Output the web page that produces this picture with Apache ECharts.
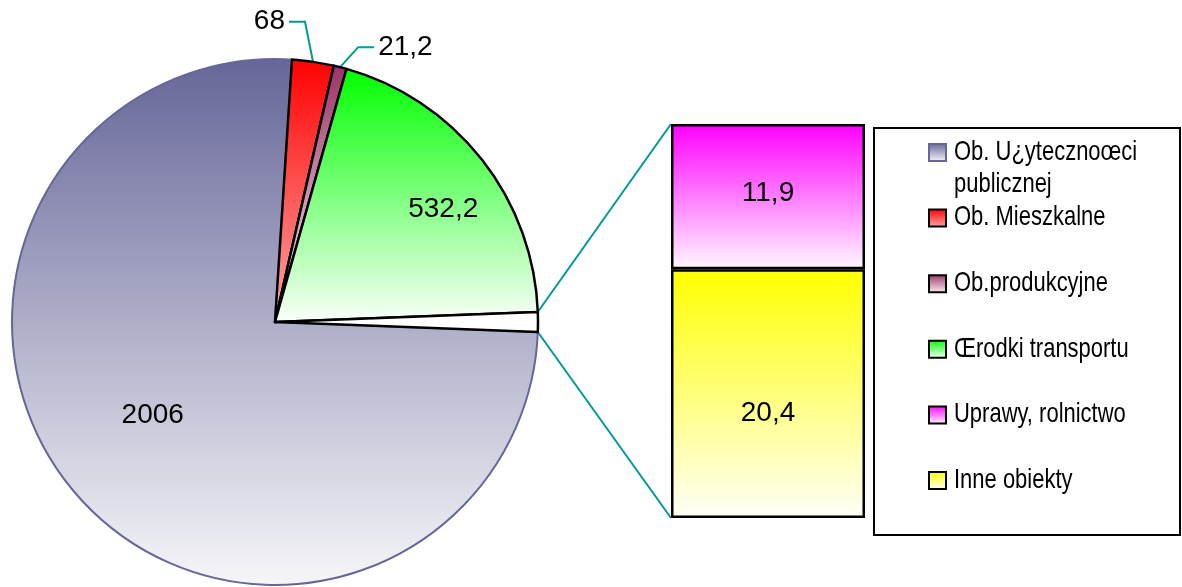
<!DOCTYPE html>
<html><head><meta charset="utf-8">
<script src="https://cdn.jsdelivr.net/npm/echarts@6/dist/echarts.min.js"></script>
<style>html,body{margin:0;padding:0;background:#fff}#c{width:1182px;height:587px}</style>
</head><body><div id="c"></div>
<script>
// ---- data ----
var pieCategories = ['Ob. U¿ytecznoœci publicznej', 'Ob. Mieszkalne', 'Ob.produkcyjne', 'Œrodki transportu'];
var pieValues = [2006, 68, 21.2, 532.2];
var barCategories = ['Uprawy, rolnictwo', 'Inne obiekty'];
var barValues = [11.9, 20.4];

// ---- styles / layout ----
var FF = "'Liberation Sans Narrow','Arial Narrow','Liberation Sans',Arial,sans-serif";
var pieColors = [['#666699', '#f6f6f9'], ['#ff0000', '#ffa8a8'], ['#993366', '#fff0f6'], ['#00ff00', '#fbfffb']];
var pieBorders = ['#666699', '#000', '#000', '#000'];
var barColors = [['#ff00ff', '#fff8ff'], ['#ffff00', '#fffff8']];
var CX = 275, CY = 322, R = 263;
var BX = 671, BY = 124, BW = 194, BH = 394;
var labelSpec = [
  {mode: 'in', ratio: 0.58, off: [-9, -9]},
  {mode: 'out', d1: [-8, -40], d2: [-24, -40], gap: 4, align: 'right'},
  {mode: 'out', d1: [18, -20], d2: [34, -20], gap: 4, align: 'left'},
  {mode: 'in', ratio: 0.78, off: [7, 14]},
  null
];

function grad(c) {
  return new echarts.graphic.LinearGradient(0, 0, 0, 1, [{offset: 0, color: c[0]}, {offset: 1, color: c[1]}]);
}
function fmt(v) { return String(Math.round(v * 10) / 10).replace('.', ','); }

var otherSum = barValues.reduce(function (a, b) { return a + b; }, 0);
var allVals = pieValues.concat([otherSum]);
var total = allVals.reduce(function (a, b) { return a + b; }, 0);
// place centre of the "other" slice at 3 o'clock
var startAngle = (total - otherSum / 2) / total * 360;
var theta0 = 90 - startAngle; // clockwise from top
var mids = [], cum = 0;
allVals.forEach(function (v) { mids.push(theta0 + (cum + v / 2) / total * 360); cum += v; });
function polar(thetaDeg, r) {
  var t = thetaDeg * Math.PI / 180;
  return [CX + r * Math.sin(t), CY - r * Math.cos(t)];
}

var pieData = pieValues.map(function (v, i) {
  var s = labelSpec[i];
  return {
    name: pieCategories[i], value: v,
    itemStyle: {color: grad(pieColors[i]), borderColor: pieBorders[i], borderWidth: i === 0 ? 2 : 2.5},
    label: {show: true, position: s.mode === 'out' ? 'outside' : 'inside'},
    labelLine: {show: s.mode === 'out'}
  };
});
pieData.push({
  name: 'Inne + uprawy', value: otherSum,
  itemStyle: {color: '#ffffff', borderColor: '#000', borderWidth: 2.5},
  label: {show: false}, labelLine: {show: false}
});

var barSeries = barCategories.map(function (name, i) {
  return {
    type: 'bar', name: name, stack: 'o', barWidth: '100%', data: [barValues[i]],
    itemStyle: {color: grad(barColors[i]), borderColor: '#000', borderWidth: 2.5},
    label: {show: true, position: 'inside', fontFamily: FF, fontSize: 28, color: '#000',
      offset: i === 1 ? [0, 20] : [0, -3], formatter: function (p) { return fmt(p.value); }},
    z: 3
  };
}).reverse();

// connectors from pie "other" slice to the bar
var halfOther = otherSum / total * 180;
var pTop = polar(90 - halfOther, R), pBot = polar(90 + halfOther, R);
var graphics = [
  {type: 'line', shape: {x1: pTop[0], y1: pTop[1], x2: BX, y2: BY}, style: {stroke: '#009999', lineWidth: 2}, z: 1},
  {type: 'line', shape: {x1: pBot[0], y1: pBot[1], x2: BX, y2: BY + BH}, style: {stroke: '#009999', lineWidth: 2}, z: 1},
  {type: 'rect', shape: {x: 874, y: 128, width: 306, height: 407}, style: {fill: '#fff', stroke: '#000', lineWidth: 2}, z: 1}
];
var legNames = pieCategories.concat(barCategories);
var legColors = pieColors.concat(barColors);
var legBorders = pieBorders.concat(['#000', '#000']);
legNames.forEach(function (n, i) {
  var cy = 152 + i * 65.6;
  graphics.push({type: 'rect', shape: {x: 929, y: cy - 8, width: 17, height: 17},
    style: {fill: grad(legColors[i]), stroke: legBorders[i], lineWidth: 2}, z: 5});
  graphics.push({type: 'text', x: 954, y: cy - 16, scaleX: 0.785,
    style: {text: n, fontFamily: FF, fontSize: 28, fill: '#000', lineHeight: 32, verticalAlign: 'top',
      width: 270, overflow: 'break'}, z: 5});
});

var chart = echarts.init(document.getElementById('c'), null, {renderer: 'canvas'});
chart.setOption({
  animation: false,
  backgroundColor: '#fff',
  grid: {left: BX, top: BY, width: BW, height: BH},
  xAxis: {type: 'category', data: ['Inne'], show: false},
  yAxis: {type: 'value', min: 0, max: otherSum, show: false},
  graphic: graphics,
  series: [{
    type: 'pie', center: [CX, CY], radius: R, startAngle: startAngle, clockwise: true,
    avoidLabelOverlap: false, silent: true, z: 2,
    data: pieData,
    label: {fontFamily: FF, fontSize: 28, color: '#000', formatter: function (p) { return fmt(p.value); }},
    labelLine: {lineStyle: {color: '#009999', width: 2}, length: 10, length2: 10, smooth: false},
    labelLayout: function (p) {
      var s = labelSpec[p.dataIndex];
      if (!s) return {};
      if (s.mode === 'in') {
        var q = polar(mids[p.dataIndex], R * s.ratio);
        return {x: q[0] + s.off[0], y: q[1] + s.off[1], align: 'center', verticalAlign: 'middle'};
      }
      var a = polar(mids[p.dataIndex], R);
      var e = [a[0] + s.d1[0], a[1] + s.d1[1]];
      var f = [a[0] + s.d2[0], a[1] + s.d2[1]];
      var lx = s.align === 'right' ? f[0] - s.gap : f[0] + s.gap;
      return {x: lx, y: f[1], align: s.align, verticalAlign: 'middle', labelLinePoints: [a, e, f]};
    }
  }].concat(barSeries)
});
</script>
</body></html>
